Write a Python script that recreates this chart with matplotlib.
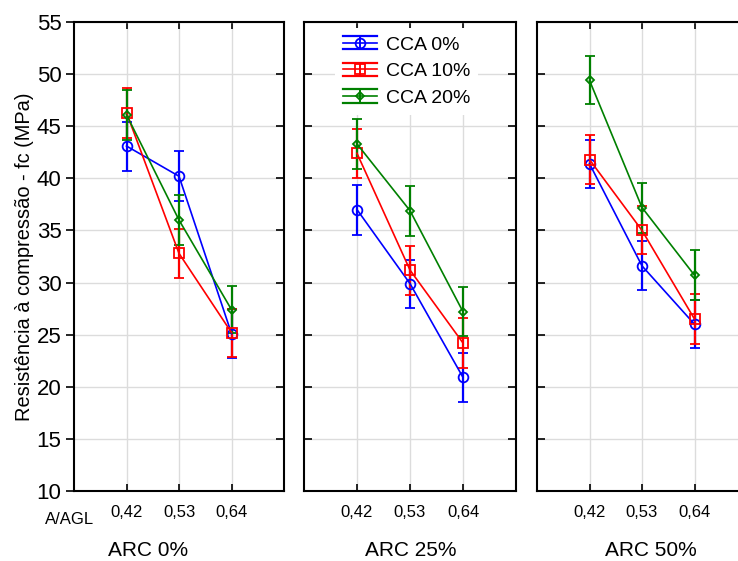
import matplotlib
matplotlib.use("Agg")
import matplotlib.pyplot as plt
import matplotlib.lines as mlines
from matplotlib.legend_handler import HandlerBase
import numpy as np

plt.rcParams['font.family'] = ['Liberation Sans', 'DejaVu Sans']

# Data
panels = ["ARC 0%", "ARC 25%", "ARC 50%"]
ratios = ["0,42", "0,53", "0,64"]
series = ["CCA 0%", "CCA 10%", "CCA 20%"]

arc0_cca0 = [43.1, 40.2, 25.1]
arc0_cca10 = [46.3, 32.8, 25.2]
arc0_cca20 = [46.1, 36.0, 27.4]
arc0_err = [[2.35, 2.4, 2.35], [2.4, 2.35, 2.3], [2.4, 2.4, 2.25]]

arc25_cca0 = [37.0, 29.9, 20.9]
arc25_cca10 = [42.4, 31.2, 24.2]
arc25_cca20 = [43.3, 36.9, 27.2]
arc25_err = [[2.4, 2.3, 2.35], [2.35, 2.35, 2.4], [2.4, 2.4, 2.35]]

arc50_cca0 = [41.4, 31.6, 26.0]
arc50_cca10 = [41.8, 35.0, 26.5]
arc50_cca20 = [49.4, 37.2, 30.7]
arc50_err = [[2.3, 2.35, 2.3], [2.35, 2.3, 2.4], [2.3, 2.4, 2.4]]

values = [
    [arc0_cca0, arc0_cca10, arc0_cca20],
    [arc25_cca0, arc25_cca10, arc25_cca20],
    [arc50_cca0, arc50_cca10, arc50_cca20],
]
errors = [arc0_err, arc25_err, arc50_err]

colors = ["#0000ff", "#ff0000", "#008000"]
markers = ["o", "s", "D"]
msizes = [7, 7, 4]


class ErrHandle:
    def __init__(self, color, marker, ms):
        self.color, self.marker, self.ms = color, marker, ms


class ErrHandler(HandlerBase):
    # legend key: line + marker, short bar, wide caps
    def create_artists(self, legend, orig, xd, yd, width, height, fontsize, trans):
        c = orig.color
        ym = height / 2 - yd
        h = 0.34 * fontsize
        x0, x1 = -xd, width - xd
        xm = (x0 + x1) / 2
        arts = [
            mlines.Line2D([x0, x1], [ym, ym], color=c, lw=1.2),
            mlines.Line2D([x0, x1], [ym + h, ym + h], color=c, lw=1.6),
            mlines.Line2D([x0, x1], [ym - h, ym - h], color=c, lw=1.6),
            mlines.Line2D([xm, xm], [ym - h, ym + h], color=c, lw=1.4),
            mlines.Line2D([xm], [ym], color=c, marker=orig.marker, markersize=orig.ms,
                          markerfacecolor="none", markeredgewidth=1.3),
        ]
        for a in arts:
            a.set_transform(trans)
        return arts


fig = plt.figure(figsize=(7.38, 5.61), dpi=100)

W, H = 738, 561
boxes = [(74, 284), (304, 516), (537, 747)]
top, bottom = 22, 491
title_x = [148, 411, 651]

x = np.arange(1, 4)
for p, (x0, x1) in enumerate(boxes):
    ax = fig.add_axes([x0 / W, 1 - bottom / H, (x1 - x0) / W, (bottom - top) / H])
    for s in range(3):
        ax.errorbar(x, values[p][s], yerr=errors[p][s], color=colors[s],
                    marker=markers[s], markersize=msizes[s], markerfacecolor="none",
                    markeredgewidth=1.3, lw=1.2, capsize=3.5, elinewidth=1.6,
                    capthick=1.4, zorder=3)
    ax.set_xlim(0, 4)
    ax.set_ylim(10, 55)
    ax.set_xticks(x)
    ax.set_xticklabels(ratios, fontsize=12)
    ax.set_yticks(np.arange(10, 56, 5))
    ax.grid(True, color="#dcdcdc", lw=1, zorder=0)
    ax.set_axisbelow(True)
    for sp in ax.spines.values():
        sp.set_linewidth(1.5)
    ax.tick_params(axis="x", direction="in", top=True, length=5, width=1.2, pad=10)
    if p == 0:
        ax.tick_params(axis="y", direction="out", right=True, length=6, width=1.2,
                       labelsize=16, pad=3)
        for t in ax.yaxis.get_major_ticks():
            t.tick2line.set_marker(mlines.TICKLEFT)
        ax.set_ylabel("Resistência à compressão - fc (MPa)", fontsize=14.4, labelpad=2)
    else:
        ax.tick_params(axis="y", direction="in", right=True, length=6, width=1.2,
                       labelleft=False)
    if p == 1:
        handles = [ErrHandle(colors[s], markers[s], msizes[s]) for s in range(3)]
        ax.legend(handles, series, handler_map={ErrHandle: ErrHandler()},
                  loc="upper left", bbox_to_anchor=(0.13, 0.995), fontsize=14,
                  frameon=True, edgecolor="none", facecolor="white", framealpha=1,
                  handlelength=1.75, labelspacing=0.46, borderaxespad=0.2,
                  handletextpad=0.45, fancybox=False)
    fig.text(title_x[p] / W, 1 - 551 / H, panels[p], fontsize=15,
             ha="center", va="center")

fig.text(70 / W, 1 - 520 / H, "A/AGL", fontsize=12, ha="center", va="center")

fig.savefig("out.png", dpi=100)
